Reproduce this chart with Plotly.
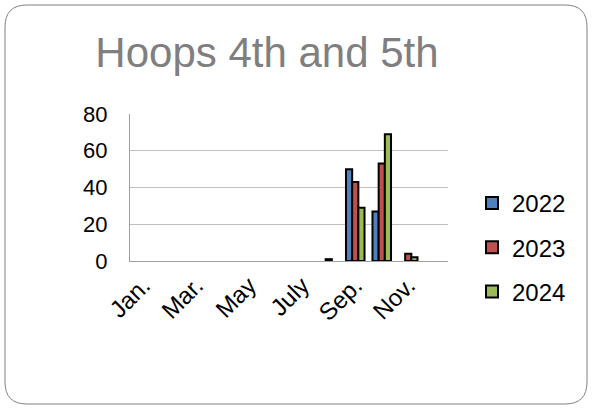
import plotly.graph_objects as go

months = ["Jan.", "Feb.", "Mar.", "Apr.", "May", "June", "July", "Aug.", "Sep.", "Oct.", "Nov.", "Dec."]
tick_labels = ["Jan.", "Mar.", "May", "July", "Sep.", "Nov."]
v2022 = [None, None, None, None, None, None, None, None, 50, 27, None, None]
v2023 = [None, None, None, None, None, None, None, 1, 43, 53, 4, None]
v2024 = [None, None, None, None, None, None, None, None, 29, 69, 2, None]
series = [("2022", v2022, "#4F81BD"), ("2023", v2023, "#C0504D"), ("2024", v2024, "#9BBB59")]

W, H = 592, 408
L, R, T, B = 130, 448, 114, 261

fig = go.Figure()
for name, vals, col in series:
    fig.add_trace(go.Bar(x=months, y=vals, name=name, legendgroup=name,
                         marker=dict(color=col, line=dict(color="black", width=2))))

def px(x):
    return (x - L) / (R - L)

def py(y):
    return (B - y) / (B - T)

x0, x1, y0, y1, r = 5, 587, 5, 404, 22
path = (f"M {px(x0 + r)},{py(y0)} L {px(x1 - r)},{py(y0)} Q {px(x1)},{py(y0)} {px(x1)},{py(y0 + r)} "
        f"L {px(x1)},{py(y1 - r)} Q {px(x1)},{py(y1)} {px(x1 - r)},{py(y1)} "
        f"L {px(x0 + r)},{py(y1)} Q {px(x0)},{py(y1)} {px(x0)},{py(y1 - r)} "
        f"L {px(x0)},{py(y0 + r)} Q {px(x0)},{py(y0)} {px(x0 + r)},{py(y0)} Z")
fig.add_shape(type="path", path=path, xref="paper", yref="paper",
              line=dict(color="#808080", width=1), layer="below")

fig.update_layout(
    width=W, height=H,
    margin=dict(l=L, r=W - R, t=T, b=H - B),
    paper_bgcolor="white", plot_bgcolor="white",
    font=dict(family="Liberation Sans, Arial, sans-serif", color="black", size=22),
    title=dict(text="Hoops 4th and 5th", x=267 / W, xanchor="center", y=1 - 52 / H, yanchor="middle",
               font=dict(size=42, color="#7F7F7F")),
    barmode="group", bargap=0.3, bargroupgap=0,
    showlegend=True,
    legend=dict(x=px(472), xanchor="left", y=py(181), yanchor="top",
                font=dict(size=24), tracegroupgap=10, itemwidth=30,
                bgcolor="rgba(0,0,0,0)"),
    xaxis=dict(type="category", categoryorder="array", categoryarray=months,
               tickmode="array", tickvals=tick_labels, ticktext=tick_labels,
               tickangle=-45, tickfont=dict(size=24), showline=True, linecolor="#A0A0A0",
               linewidth=1, showgrid=False, ticks="", range=[-0.5, 11.5]),
    yaxis=dict(range=[0, 80], tickvals=[0, 20, 40, 60, 80], showline=True,
               linecolor="#A0A0A0", linewidth=1, showgrid=True, gridcolor="#C0C0C0",
               gridwidth=1, zeroline=False, ticks="", ticklabelstandoff=17),
)

fig.write_html("out.html", config={"displayModeBar": False},
               post_script="document.body.style.margin='0';")
